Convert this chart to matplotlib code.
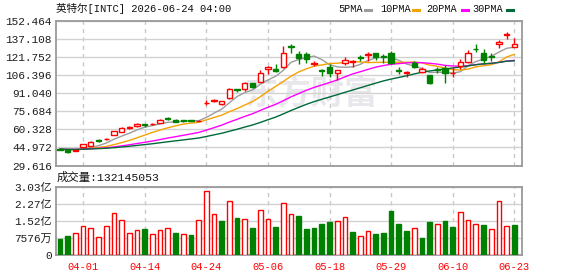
import matplotlib
matplotlib.use("Agg")
import matplotlib.pyplot as plt
from matplotlib.lines import Line2D
import numpy as np

# ---- daily OHLC (60 sessions) ----
opens = [43.86, 43.18, 42.16, 45.14, 46.59, 51.28, 51.97, 55.64, 58.20, 61.61,
         62.80, 64.77, 64.51, 65.62, 69.63, 68.18, 68.18, 67.92, 67.32, 82.68,
         84.22, 81.57, 86.69, 94.62, 94.37, 99.49, 100.85, 111.43, 111.94, 112.97,
         131.31, 124.74, 124.74, 116.21, 110.58, 113.65, 108.02, 117.06, 117.91, 121.67,
         123.88, 125.08, 122.52, 125.08, 110.58, 108.27, 116.55, 109.38, 106.57, 111.69,
         112.79, 107.95, 114.50, 117.40, 129.00, 125.08, 122.52, 132.76, 140.95, 130.71]
highs = [44.46, 43.69, 42.84, 48.13, 50.26, 52.23, 52.82, 59.22, 61.95, 62.80,
         65.62, 64.77, 65.36, 69.29, 70.74, 68.78, 68.60, 68.43, 68.43, 85.24,
         86.09, 84.81, 95.90, 94.62, 100.85, 99.74, 110.83, 114.50, 115.70, 131.31,
         133.27, 127.30, 126.44, 118.51, 111.94, 115.95, 111.09, 121.92, 119.36, 123.37,
         126.44, 125.59, 124.23, 127.04, 113.65, 109.98, 118.51, 113.65, 106.57, 113.65,
         115.10, 113.65, 120.22, 127.89, 133.01, 128.49, 125.08, 136.43, 142.99, 137.88]
lows = [42.41, 40.28, 41.90, 44.72, 46.42, 50.01, 51.37, 55.13, 57.68, 60.93,
        62.46, 62.63, 64.17, 65.36, 68.18, 66.21, 66.90, 67.07, 67.07, 80.72,
        83.53, 81.40, 86.52, 92.06, 92.92, 95.48, 100.60, 107.16, 108.87, 112.60,
        125.08, 115.95, 117.06, 114.50, 105.97, 104.61, 102.30, 115.10, 113.65, 118.51,
        118.51, 119.36, 116.55, 115.70, 107.42, 104.61, 112.28, 108.02, 98.63, 108.02,
        100.00, 105.12, 111.69, 116.55, 126.44, 115.95, 118.51, 129.34, 137.02, 130.20]
closes = [43.01, 41.13, 42.58, 47.70, 50.01, 50.86, 52.40, 58.54, 61.10, 62.21,
          65.02, 64.34, 65.02, 68.18, 69.20, 66.73, 67.32, 67.25, 67.75, 83.11,
          85.07, 84.39, 94.62, 94.20, 99.74, 96.07, 108.27, 113.14, 109.98, 125.08,
          130.20, 120.60, 120.30, 116.80, 109.98, 108.53, 110.83, 119.36, 118.51, 121.07,
          124.48, 122.18, 121.92, 116.55, 109.98, 108.87, 113.65, 111.43, 99.49, 111.09,
          108.53, 108.40, 117.40, 125.08, 128.49, 119.36, 121.92, 134.98, 141.54, 133.01]

# moving averages as drawn on the chart
ma5 = [43.40, 42.93, 42.74, 43.58, 44.89, 46.46, 48.71, 51.90, 54.58, 57.02,
       59.85, 62.24, 63.54, 64.95, 66.35, 66.69, 67.29, 67.75, 67.66, 70.45,
       74.11, 77.53, 82.99, 88.28, 91.60, 93.80, 98.58, 102.28, 105.44, 110.51,
       117.33, 119.72, 121.31, 122.67, 119.65, 115.32, 113.44, 113.10, 113.44, 115.66,
       118.85, 121.12, 121.63, 121.24, 119.02, 115.90, 114.19, 112.10, 108.68, 108.91,
       108.84, 108.16, 109.35, 114.47, 117.95, 120.11, 122.45, 125.97, 129.26, 130.16]
ma10 = [43.45, 43.21, 43.12, 43.54, 44.19, 44.93, 45.82, 47.32, 49.08, 50.95,
        53.16, 55.48, 57.72, 59.77, 61.69, 63.27, 64.77, 65.64, 66.31, 68.40,
        70.40, 72.41, 75.37, 77.97, 81.03, 83.96, 88.05, 92.64, 96.86, 101.06,
        105.57, 109.15, 111.80, 114.06, 115.08, 116.33, 116.58, 117.21, 118.06, 117.66,
        117.09, 117.28, 117.37, 117.34, 117.34, 117.38, 117.66, 116.86, 114.96, 113.96,
        112.37, 111.18, 110.72, 111.58, 113.43, 114.48, 115.30, 117.66, 121.86, 124.06]
ma20 = [43.48, 43.36, 43.31, 43.52, 43.85, 44.21, 44.66, 45.41, 46.29, 47.23,
        48.30, 49.35, 50.42, 51.66, 52.94, 54.10, 55.29, 56.48, 57.70, 59.68,
        61.78, 63.94, 66.54, 68.87, 71.36, 73.62, 76.41, 79.14, 81.58, 84.73,
        87.99, 90.78, 93.58, 96.01, 98.05, 100.14, 102.32, 104.92, 107.46, 109.36,
        111.33, 113.22, 114.58, 115.70, 116.21, 116.85, 117.12, 117.03, 116.51, 115.81,
        114.73, 114.23, 114.04, 114.46, 115.38, 115.93, 116.48, 117.26, 118.41, 119.01]
ma30 = [43.48, 43.40, 43.37, 43.51, 43.73, 43.98, 44.27, 44.77, 45.36, 45.98,
        46.70, 47.40, 48.11, 48.94, 49.79, 50.57, 51.36, 52.16, 52.96, 54.28,
        55.67, 57.03, 58.74, 60.43, 62.30, 64.05, 66.21, 68.53, 70.75, 73.47,
        76.38, 79.01, 81.63, 83.93, 85.93, 87.85, 89.80, 91.83, 93.74, 95.70,
        97.69, 99.61, 101.51, 103.12, 104.48, 105.89, 107.43, 108.90, 109.96, 110.89,
        111.67, 112.54, 113.30, 114.32, 115.28, 116.06, 116.51, 117.24, 118.29, 118.56]

# volume in millions of shares, and whether the bar is drawn as "up" (red)
volume_m = [72.0, 85.2, 97.2, 128.1, 119.3, 79.5, 128.1, 185.5, 154.6, 97.2,
            110.4, 116.2, 92.8, 110.4, 119.3, 98.5, 92.8, 89.7, 154.6, 282.7,
            181.1, 151.5, 238.5, 163.4, 159.0, 120.6, 198.8, 159.0, 125.0, 229.7,
            181.1, 173.6, 116.2, 120.6, 138.3, 147.1, 151.5, 167.8, 102.9, 85.2,
            107.3, 94.1, 98.5, 195.7, 138.3, 107.3, 120.6, 76.4, 147.1, 138.3,
            151.5, 125.0, 191.3, 155.9, 138.3, 133.8, 116.2, 239.8, 129.4, 132.145053]
vol_up = [0, 0, 1, 1, 1, 1, 1, 1, 1, 1,
          1, 0, 1, 1, 1, 0, 1, 0, 1, 1,
          1, 0, 1, 0, 1, 0, 1, 1, 0, 1,
          1, 0, 0, 0, 0, 0, 1, 1, 0, 1,
          1, 0, 0, 0, 0, 0, 1, 0, 0, 1,
          0, 0, 1, 1, 1, 0, 1, 1, 1, 0]

date_ticks = [3, 11, 19, 27, 35, 43, 51, 59]
date_labels = ["04-01", "04-14", "04-24", "05-06", "05-18", "05-29", "06-10", "06-23"]
price_ticks = [29.616, 44.972, 60.328, 75.684, 91.040, 106.396, 121.752, 137.108, 152.464]
vol_ticks = [0, 75.76e6, 151.52e6, 227.28e6, 303.04e6]
vol_tick_labels = ["0", "7576万", "1.52亿", "2.27亿", "3.03亿"]

RED = "#ff0000"
GREEN = "#008000"
GRID = "#d2d2d2"
SPINE = "#9a9a9a"
MONO = ["Liberation Mono", "Noto Sans CJK SC"]

W, H = 578, 276
fig = plt.figure(figsize=(W / 100, H / 100), dpi=100)
ax = fig.add_axes([56 / W, 1 - 165.5 / H, 466 / W, 144.5 / H])
axv = fig.add_axes([56 / W, 1 - 255.3 / H, 466 / W, 68.6 / H])

o = np.array(opens)
c = np.array(closes)
x = np.arange(len(c))
up = c >= o
cols = np.where(up, RED, GREEN)

# watermark
ax.text(0.547, 0.49, "东方财富", transform=ax.transAxes, fontsize=24,
        fontweight="bold", color="#e8e8ec", ha="center", va="center",
        family="Noto Sans CJK SC", zorder=0.5)

# moving averages
ax.plot(x, ma5, color="#9c9c9c", lw=1.0, zorder=2)
ax.plot(x, ma10, color="#f5a300", lw=1.0, zorder=2)
ax.plot(x, ma20, color="#ff00ff", lw=1.0, zorder=2)
ax.plot(x, ma30, color="#00693a", lw=1.0, zorder=2)

# candles
ax.vlines(x, lows, highs, colors=cols, lw=1.0, zorder=3)
ax.bar(x, np.abs(c - o), bottom=np.minimum(o, c), width=0.68,
       color=np.where(up, "white", GREEN), edgecolor=cols, lw=1.0, zorder=4)

ax.set_xlim(-0.52, 60.0)
ax.set_ylim(price_ticks[0], price_ticks[-1])
ax.set_yticks(price_ticks)
ax.set_yticklabels([f"{v:.3f}" for v in price_ticks])
ax.set_xticks(date_ticks)
ax.set_xticklabels([])

# volume
vu = np.array(vol_up, dtype=bool)
vcols = np.where(vu, RED, GREEN)
axv.bar(x, np.array(volume_m) * 1e6, width=0.62,
        color=np.where(vu, "white", GREEN), edgecolor=vcols, lw=1.0, zorder=3)
axv.set_xlim(-0.52, 60.0)
axv.set_ylim(0, vol_ticks[-1])
axv.set_yticks(vol_ticks)
axv.set_yticklabels(vol_tick_labels)
axv.set_xticks(date_ticks)
axv.set_xticklabels(date_labels)

for a in (ax, axv):
    a.grid(True, axis="y", color=GRID, lw=1.0, ls="-", zorder=1)
    a.grid(True, axis="x", color="#c8c8c8", lw=1.0, ls=(0, (3, 3)), zorder=1)
    a.set_axisbelow(True)
    for s in a.spines.values():
        s.set_color(SPINE)
        s.set_linewidth(1.3)
    a.tick_params(length=0, pad=3, labelsize=8, labelcolor="#1e1e1e")
    for lab in a.get_yticklabels():
        lab.set_family(MONO)

for lab in axv.get_xticklabels():
    lab.set_color(RED)
    lab.set_family(MONO)
    lab.set_fontsize(7.5)
axv.tick_params(axis="x", pad=5)

# title and volume header
fig.text(56 / W, 1 - 9 / H, "英特尔[INTC] 2026-06-24 04:00", family=MONO,
         fontsize=7.6, color="#111111", ha="left", va="center")
fig.text(57 / W, 1 - 177.5 / H, "成交量:132145053", family=MONO,
         fontsize=8.2, color="#111111", ha="left", va="center")

# moving-average legend
legend = [("5PMA", 338, 365, "#9c9c9c"), ("10PMA", 380, 413, "#f5a300"),
          ("20PMA", 426, 462, "#ff00ff"), ("30PMA", 472, 507, "#00693a")]
for name, tx, lx, col in legend:
    fig.text(tx / W, 1 - 9 / H, name, family=MONO, fontsize=7.4,
             color="#111111", ha="left", va="center")
    fig.add_artist(Line2D([lx / W, (lx + 6) / W], [1 - 9.5 / H, 1 - 9.5 / H],
                          color=col, lw=2.2, transform=fig.transFigure))

fig.savefig("out.png", dpi=100)
